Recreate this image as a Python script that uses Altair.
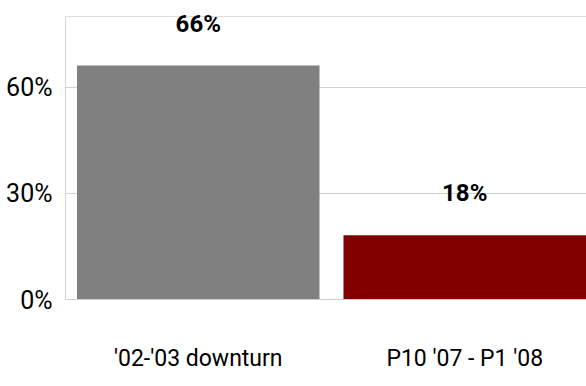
import altair as alt
import pandas as pd

# Share of decline in each period (percent)
periods = ["'02-'03 downturn", "P10 '07 - P1 '08"]
shares = [66, 18]
bar_colors = ["#808080", "#800000"]
y_ticks = [0, 30, 60]

df = pd.DataFrame({"period": periods, "share": shares, "color": bar_colors})
df["label"] = df["share"].astype(str) + "%"

FONT = "Roboto, Liberation Sans, sans-serif"

x_enc = alt.X(
    "period:N",
    sort=periods,
    title=None,
    scale=alt.Scale(paddingInner=0.09, paddingOuter=0.0225, align=1),
    axis=alt.Axis(
        labelAngle=0,
        labelFont=FONT,
        labelFontSize=23,
        labelColor="#000000",
        labelPadding=48,
        labelLimit=0,
        ticks=False,
        domainColor="#cccccc",
        domainWidth=1,
    ),
)

y_enc = alt.Y(
    "share:Q",
    title=None,
    scale=alt.Scale(domain=[0, 80], nice=False),
    axis=alt.Axis(
        values=y_ticks,
        labelExpr="datum.value + '%'",
        labelFont=FONT,
        labelFontSize=25,
        labelColor="#000000",
        labelPadding=13,
        labelBaseline="middle",
        labelOffset=1,
        labelLimit=0,
        ticks=False,
        grid=True,
        gridColor="#d0d0d0",
        gridWidth=1,
        domainColor="#d4d4d4",
        domainWidth=1,
    ),
)

bars = alt.Chart(df).mark_bar().encode(
    x=x_enc,
    y=y_enc,
    color=alt.Color("color:N", scale=None, legend=None),
)

labels = alt.Chart(df).mark_text(
    font=FONT,
    fontSize=24,
    fontWeight="bold",
    color="#000000",
    baseline="middle",
    dy=-41,
).encode(
    x=alt.X("period:N", sort=periods),
    y="share:Q",
    text="label:N",
)

chart = (
    alt.layer(bars, labels)
    .properties(
        width=521,
        height=283,
        autosize=alt.AutoSizeParams(type="none"),
        padding={"left": 65, "top": 16, "right": 0, "bottom": 87},
    )
    .configure_view(stroke=None)
    .configure(background="#ffffff")
)

chart.save("out.html", embed_options={"renderer": "svg", "actions": False})
